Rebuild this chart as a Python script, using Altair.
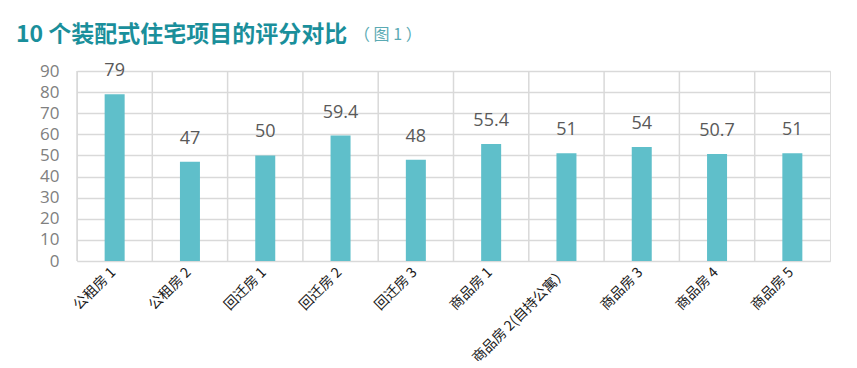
import altair as alt
import pandas as pd

categories = ["公租房 1", "公租房 2", "回迁房 1", "回迁房 2", "回迁房 3",
              "商品房 1", "商品房 2(自持公寓）", "商品房 3", "商品房 4", "商品房 5"]
values = [79, 47, 50, 59.4, 48, 55.4, 51, 54, 50.7, 51]
labels = ["79", "47", "50", "59.4", "48", "55.4", "51", "54", "50.7", "51"]
y_ticks = [0, 10, 20, 30, 40, 50, 60, 70, 80, 90]
title_main = "10 个装配式住宅项目的评分对比"
title_note = "（ 图 1 ）"

df = pd.DataFrame({"cat": categories, "val": values, "lab": labels})

xscale = alt.Scale(domain=categories, paddingInner=0, paddingOuter=0)
yscale = alt.Scale(domain=[0, 90], nice=False)

x_enc = alt.X("cat:N", sort=categories, scale=xscale,
              axis=alt.Axis(title=None, labelAngle=-45, labelAlign="right",
                            labelBaseline="middle", labelFontSize=14,
                            labelColor="#1a1a1a", labelFont="Noto Sans CJK SC",
                            labelPadding=9, labelOffset=-1, ticks=False,
                            domain=False, grid=False,
                            labelOverlap=False, labelLimit=300))
y_enc = alt.Y("val:Q", scale=yscale,
              axis=alt.Axis(title=None, values=y_ticks, tickCount=10,
                            labelFontSize=17, labelOverlap=False,
                            labelColor="#808080", labelFont="Open Sans",
                            labelPadding=18, ticks=False, domain=False,
                            grid=True, gridColor="#d9d9d9", gridWidth=1.5))

base = alt.Chart(df)

vgrid = base.mark_rule(color="#d9d9d9", strokeWidth=1.5).encode(
    x=alt.X("cat:N", sort=categories, scale=xscale, bandPosition=0),
)

bars = base.mark_bar(color="#5fbfca", size=20).encode(x=x_enc, y=y_enc)

text = base.mark_text(dy=-14, baseline="bottom", fontSize=18,
                      color="#595959", font="Open Sans").encode(
    x=alt.X("cat:N", sort=categories, scale=xscale),
    y=alt.Y("val:Q", scale=yscale),
    text="lab:N",
)

title1 = alt.Chart(pd.DataFrame({"t": [title_main]})).mark_text(
    align="left", baseline="middle", fontSize=23, fontWeight="bold",
    color="#1a8f9b", font="Noto Sans CJK SC"
).encode(x=alt.value(-61), y=alt.value(-36), text="t:N")

title2 = alt.Chart(pd.DataFrame({"t": [title_note]})).mark_text(
    align="left", baseline="middle", fontSize=16, color="#5aaab3",
    font="Noto Sans CJK SC"
).encode(x=alt.value(277), y=alt.value(-36), text="t:N")

chart = alt.layer(vgrid, bars, text, title1, title2).properties(
    width=753, height=190,
    autosize=alt.AutoSizeParams(type="none"),
    padding={"left": 69, "top": 63, "right": 19, "bottom": 100},
).configure_view(stroke="#d9d9d9", strokeWidth=1.5, fill="#f5f5f5"
).configure(background="white")

chart.save("out.html", embed_options={"renderer": "svg", "actions": False})
